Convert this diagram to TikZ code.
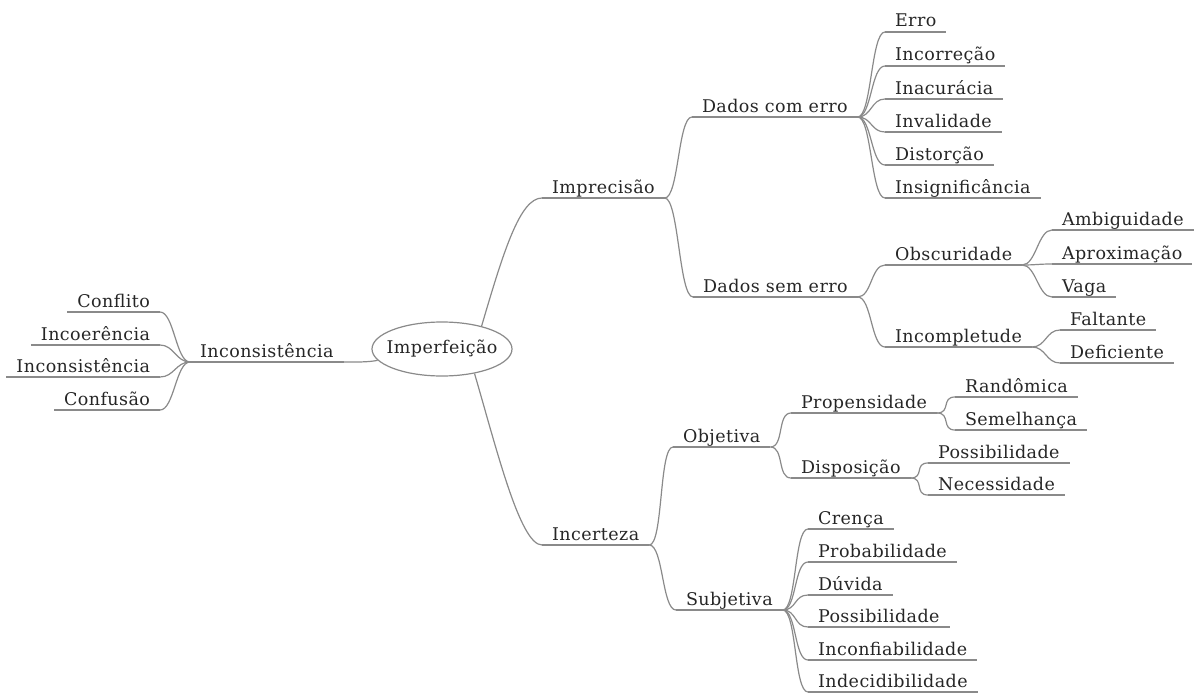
\documentclass[tikz,border=0pt]{standalone}
\usepackage{fontspec}
\setmainfont{DejaVu Serif}[LetterSpace=2.5]
\usetikzlibrary{shapes.geometric}
\definecolor{edgegray}{HTML}{8A8A8A}
\begin{document}
\begin{tikzpicture}[x=1pt,y=-1pt,
  mm/.style={font=\fontsize{17.5}{20}\selectfont, text=black!85, inner xsep=10pt, inner ysep=5pt, text depth=0pt, outer sep=0pt},
  R/.style={mm, anchor=south west},
  L/.style={mm, anchor=south east},
  edge/.style={draw=edgegray, line width=1.2pt},
  rootnode/.style={ellipse, draw=edgegray, line width=1.2pt, minimum width=140pt, minimum height=54pt, inner sep=0pt, font=\fontsize{17.5}{20}\selectfont, text=black!85}]
\useasboundingbox (0,0) rectangle (1194,693);
% root
\node[rootnode] (root) at (442,349) {\makebox[96pt]{Imperfeição}};
% level 1
\node[R] (impr) at (542,198) {Imprecisão};
\node[R] (incert) at (542,545) {Incerteza};
\node[R] (incons) at (190,362) {Inconsistência};
% left leaves
\node[L] (confl) at (160,312) {Conflito};
\node[L] (incoer) at (160,345) {Incoerência};
\node[L] (inconsl) at (160,377) {Inconsistência};
\node[L] (confus) at (160,410) {Confusão};
% Imprecisao
\node[R] (dce) at (692,117) {Dados com erro};
\node[R] (dse) at (693,297) {Dados sem erro};
\node[R] (erro) at (885,32) {Erro};
\node[R] (incorr) at (885,66) {Incorreção};
\node[R] (inac) at (885,99) {Inacurácia};
\node[R] (inval) at (885,132) {Invalidade};
\node[R] (dist) at (885,165) {Distorção};
\node[R] (insig) at (885,198) {Insignificância};
\node[R] (obsc) at (885,265) {Obscuridade};
\node[R] (incomp) at (885,347) {Incompletude};
\node[R] (ambig) at (1052,230) {Ambiguidade};
\node[R] (aprox) at (1052,264) {Aproximação};
\node[R] (vaga) at (1052,297) {Vaga};
\node[R] (falt) at (1060,330) {Faltante};
\node[R] (defic) at (1060,363) {Deficiente};
% Incerteza
\node[R] (obj) at (673,447) {Objetiva};
\node[R] (subj) at (676,610) {Subjetiva};
\node[R] (prop) at (791,413) {Propensidade};
\node[R] (disp) at (791,478) {Disposição};
\node[R] (rand) at (955,397) {Randômica};
\node[R] (semel) at (955,430) {Semelhança};
\node[R] (possa) at (928,463) {Possibilidade};
\node[R] (neces) at (928,495) {Necessidade};
\node[R] (crenca) at (808,529) {Crença};
\node[R] (prob) at (808,562) {Probabilidade};
\node[R] (duv) at (808,595) {Dúvida};
\node[R] (possb) at (808,627) {Possibilidade};
\node[R] (inconf) at (808,660) {Inconfiabilidade};
\node[R] (indec) at (808,692) {Indecidibilidade};
% underlines
\foreach \n in {impr,incert,incons,confl,incoer,inconsl,confus,dce,dse,erro,incorr,inac,inval,dist,insig,obsc,incomp,ambig,aprox,vaga,falt,defic,obj,subj,prop,disp,rand,semel,possa,neces,crenca,prob,duv,possb,inconf,indec}
  \draw[edge] (\n.south west) -- (\n.south east);
% right-side connectors
\foreach \p/\c in {impr/dce,impr/dse,dce/erro,dce/incorr,dce/inac,dce/inval,dce/dist,dce/insig,dse/obsc,dse/incomp,obsc/ambig,obsc/aprox,obsc/vaga,incomp/falt,incomp/defic,incert/obj,incert/subj,obj/prop,obj/disp,prop/rand,prop/semel,disp/possa,disp/neces,subj/crenca,subj/prob,subj/duv,subj/possb,subj/inconf,subj/indec}
  \draw[edge] (\p.south east) .. controls +(14,0) and +(-14,0) .. (\c.south west);
% left-side connectors
\foreach \c in {confl,incoer,inconsl,confus}
  \draw[edge] (incons.south west) .. controls +(-14,0) and +(14,0) .. (\c.south east);
% root connectors
\draw[edge] (root.30) .. controls +(22,-75) and +(-22,0) .. (impr.south west);
\draw[edge] (root.-37) .. controls +(22,75) and +(-22,0) .. (incert.south west);
\draw[edge] (root.190) .. controls +(-10,2) and +(12,0) .. (incons.south east);
\end{tikzpicture}
\end{document}
